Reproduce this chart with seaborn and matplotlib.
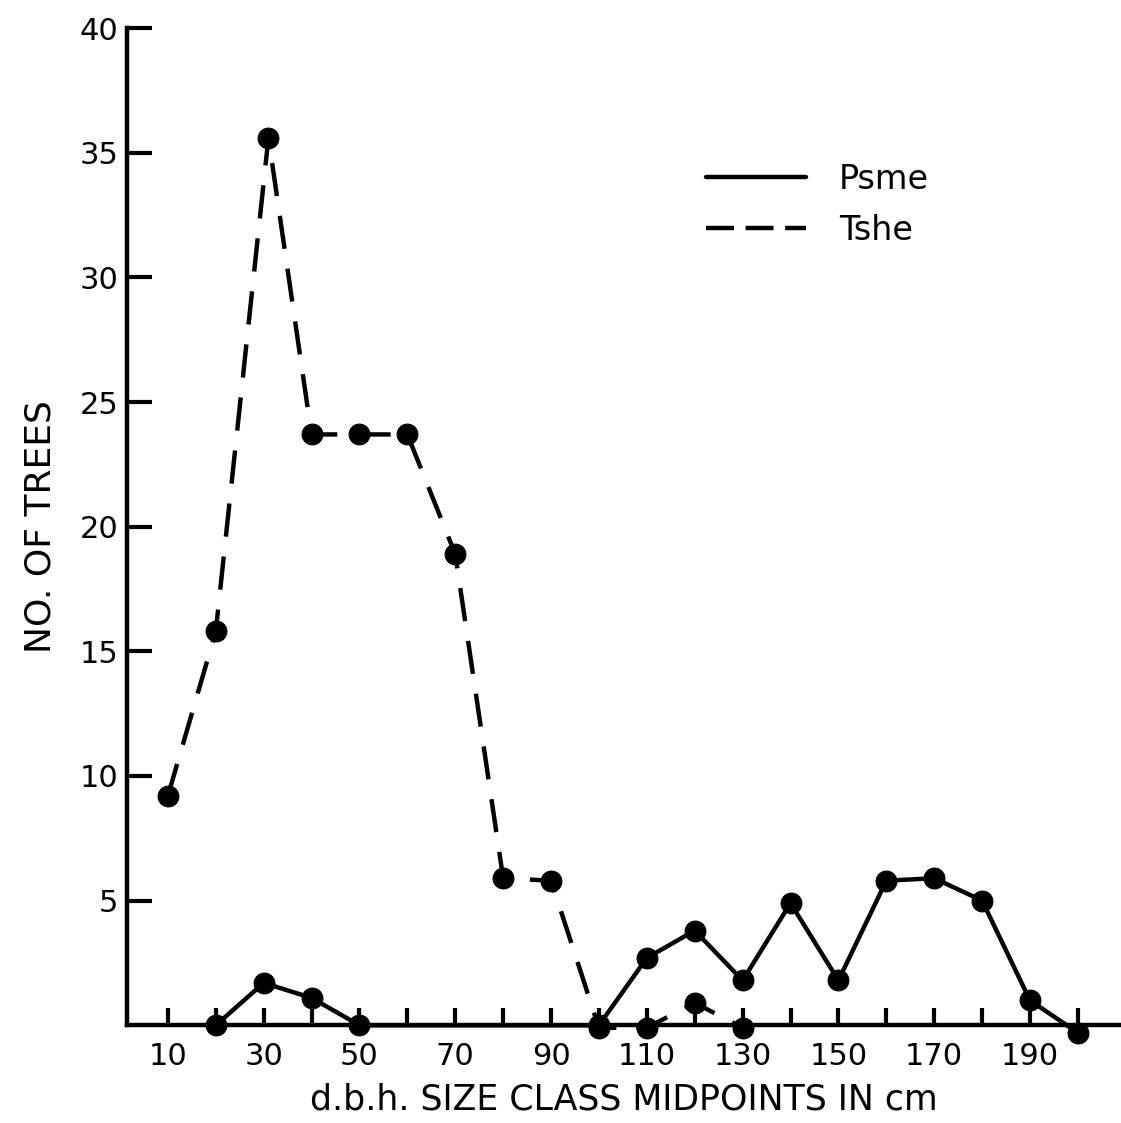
import matplotlib
matplotlib.use('Agg')
import matplotlib.pyplot as plt
import pandas as pd
import seaborn as sns

# d.b.h. size class midpoints (cm) and tree counts
psme_x = [20, 30, 40, 50, 100, 110, 120, 130, 140, 150, 160, 170, 180, 190, 200]
psme_y = [0, 1.7, 1.1, 0, 0, 2.7, 3.8, 1.8, 4.9, 1.8, 5.8, 5.9, 5.0, 1.0, -0.3]

tshe_x = [10, 20, 31, 40, 50, 60, 70, 80, 90, 100, 110, 120, 130]
tshe_y = [9.2, 15.8, 35.6, 23.7, 23.7, 23.7, 18.9, 5.9, 5.8, -0.1, -0.1, 0.9, -0.1]

x_ticks = list(range(10, 210, 10))
x_labels = [str(t) if t % 20 == 10 else '' for t in x_ticks]
y_ticks = [5, 10, 15, 20, 25, 30, 35, 40]

sns.set_theme(style='white', rc={
    'axes.unicode_minus': False,
    'text.color': 'black',
    'axes.labelcolor': 'black',
    'xtick.color': 'black',
    'ytick.color': 'black',
})
plt.rcParams['font.family'] = ['DejaVu Sans']

fig = plt.figure(figsize=(11.21, 11.23), dpi=100)
ax = fig.add_axes([0.113, 0.087, 0.887, 0.888])

psme = pd.DataFrame({'x': psme_x, 'y': psme_y})
tshe = pd.DataFrame({'x': tshe_x, 'y': tshe_y})

sns.lineplot(data=psme, x='x', y='y', color='black', lw=3.2, marker='o',
             markersize=15, markeredgecolor='black', label='Psme', ax=ax,
             clip_on=False, zorder=3)
sns.lineplot(data=tshe, x='x', y='y', color='black', lw=3.2, marker='o',
             markersize=15, markeredgecolor='black', label='Tshe', ax=ax,
             clip_on=False, zorder=3, dashes=False)
ax.lines[1].set_dashes([7.5, 4.5])

ax.set_xlim(1.4, 209)
ax.set_ylim(0, 40)
ax.set_xticks(x_ticks)
ax.set_xticklabels(x_labels)
ax.set_yticks(y_ticks)
ax.tick_params(axis='x', direction='in', length=12, width=3, labelsize=22,
               pad=12, bottom=True)
ax.tick_params(axis='y', direction='in', length=18, width=3, labelsize=22,
               pad=6, left=True)

for s in ['top', 'right']:
    ax.spines[s].set_visible(False)
for s in ['left', 'bottom']:
    ax.spines[s].set_linewidth(3.2)
    ax.spines[s].set_color('black')

ax.set_xlabel('d.b.h. SIZE CLASS MIDPOINTS IN cm', fontsize=25, labelpad=8)
ax.set_ylabel('NO. OF TREES', fontsize=26, labelpad=16)

leg = ax.legend(loc='upper left', bbox_to_anchor=(0.552, 0.895), frameon=False,
                fontsize=24, handlelength=3.0, handletextpad=1.0,
                labelspacing=0.55)
for h in leg.get_lines():
    h.set_marker('')
    h.set_linewidth(3.2)
leg.get_lines()[1].set_dashes([6.3, 2.6])

fig.savefig('out.png', dpi=100)
